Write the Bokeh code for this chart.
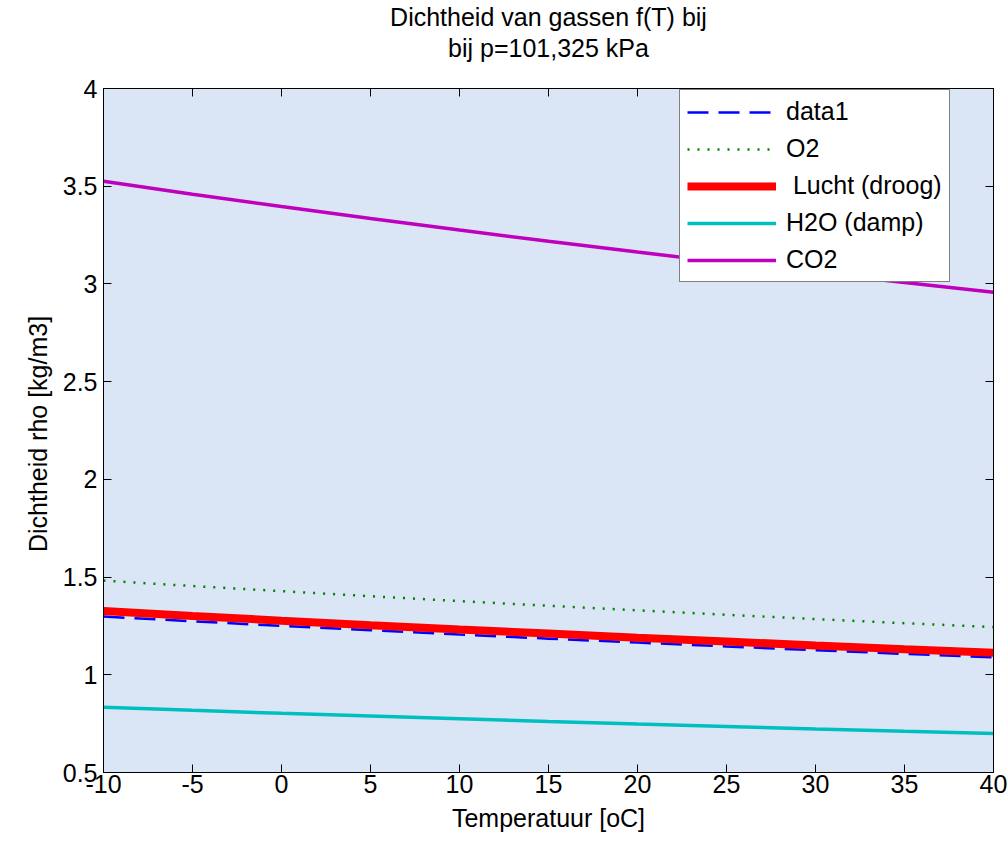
from bokeh.plotting import figure
from bokeh.models import Range1d, FixedTicker, LinearAxis, Legend, LegendItem, Title
from bokeh.embed import file_html
from bokeh.resources import INLINE

# ---- data ----
temperature = [-10, -5, 0, 5, 10, 15, 20, 25, 30, 35, 40]
rho_data1 = [1.298, 1.274, 1.250, 1.228, 1.206, 1.185, 1.165, 1.145, 1.126, 1.107, 1.089]
rho_o2 = [1.482, 1.454, 1.428, 1.402, 1.377, 1.353, 1.330, 1.307, 1.285, 1.264, 1.244]
rho_lucht = [1.326, 1.301, 1.277, 1.254, 1.232, 1.211, 1.190, 1.170, 1.150, 1.131, 1.113]
rho_h2o = [0.834, 0.818, 0.803, 0.789, 0.775, 0.761, 0.748, 0.736, 0.723, 0.711, 0.700]
rho_co2 = [3.525, 3.459, 3.396, 3.335, 3.276, 3.218, 3.163, 3.109, 3.057, 3.007, 2.958]

x_ticks = [-10, -5, 0, 5, 10, 15, 20, 25, 30, 35, 40]
x_tick_labels = ["-10", "-5", "0", "5", "10", "15", "20", "25", "30", "35", "40"]
y_ticks = [0.5, 1.0, 1.5, 2.0, 2.5, 3.0, 3.5, 4.0]
y_tick_labels = ["0.5", "1", "1.5", "2", "2.5", "3", "3.5", "4"]
legend_labels = ["data1", "O2", " Lucht (droog)", "H2O (damp)", "CO2"]
title_lines = ["Dichtheid van gassen f(T) bij", "bij p=101,325 kPa"]
x_label = "Temperatuur [oC]"
y_label = "Dichtheid rho  [kg/m3]"

FONT = "Liberation Sans"
FS = "25px"

p = figure(width=1008, height=844,
           x_range=Range1d(-10, 40), y_range=Range1d(0.5, 4),
           output_backend="svg", toolbar_location=None,
           x_axis_location=None, y_axis_location=None,
           min_border_left=103, min_border_right=15,
           min_border_top=88, min_border_bottom=72)

p.background_fill_color = "#dae6f5"
p.border_fill_color = "white"
p.outline_line_color = "black"
p.outline_line_width = 1
p.grid.visible = False

ax_bottom = LinearAxis()
ax_left = LinearAxis()
ax_top = LinearAxis()
ax_right = LinearAxis()
p.add_layout(ax_bottom, "below")
p.add_layout(ax_left, "left")
p.add_layout(ax_right, "right")
p.add_layout(ax_top, "above")

for ax in (ax_bottom, ax_top):
    ax.ticker = FixedTicker(ticks=x_ticks)
for ax in (ax_left, ax_right):
    ax.ticker = FixedTicker(ticks=y_ticks)
ax_bottom.major_label_overrides = {t: s for t, s in zip(x_ticks, x_tick_labels)}
ax_left.major_label_overrides = {t: s for t, s in zip(y_ticks, y_tick_labels)}

for ax in (ax_bottom, ax_left, ax_top, ax_right):
    ax.axis_line_color = "black"
    ax.major_tick_line_color = "black"
    ax.major_tick_in = 8
    ax.major_tick_out = 0
    ax.minor_tick_line_color = None
    ax.major_label_text_font = FONT
    ax.major_label_text_font_size = FS
    ax.major_label_text_color = "black"
    ax.axis_label_text_font = FONT
    ax.axis_label_text_font_size = FS
    ax.axis_label_text_font_style = "normal"
    ax.axis_label_text_color = "black"

# secondary axes: ticks only
for ax in (ax_top, ax_right):
    ax.major_label_text_color = None
    ax.major_label_standoff = 0

# second title line carried by the top axis label
ax_top.axis_label = title_lines[1]
ax_top.axis_label_standoff = 27

ax_bottom.axis_label = x_label
ax_bottom.major_label_standoff = 2
ax_bottom.axis_label_standoff = 8
ax_left.axis_label = y_label
ax_left.major_label_standoff = 6
ax_left.axis_label_standoff = 8

r1 = p.line(temperature, rho_data1, line_color="#0000ff", line_width=2.5, line_dash="21 10")
r2 = p.line(temperature, rho_o2, line_color="#008000", line_width=2.5, line_dash="2 8")
r3 = p.line(temperature, rho_lucht, line_color="#ff0000", line_width=8)
r4 = p.line(temperature, rho_h2o, line_color="#00bfbf", line_width=3.5)
r5 = p.line(temperature, rho_co2, line_color="#bf00bf", line_width=3.5)

legend = Legend(items=[LegendItem(label=lab, renderers=[r])
                       for lab, r in zip(legend_labels, [r1, r2, r3, r4, r5])],
                location=(576, 490))
legend.border_line_color = "black"
legend.border_line_width = 1
legend.background_fill_color = "white"
legend.background_fill_alpha = 1.0
legend.padding = 7
legend.spacing = 8
legend.margin = 0
legend.label_height = 20
legend.glyph_height = 20
legend.glyph_width = 89
legend.label_standoff = 10
legend.label_text_font = FONT
legend.label_text_font_size = FS
legend.label_text_color = "black"
p.add_layout(legend)

# first title line
p.add_layout(Title(text=title_lines[0], align="center", text_font=FONT,
                   text_font_size=FS, text_font_style="normal",
                   text_color="black", standoff=0), "above")

open("out.html", "w").write(file_html(p, INLINE))
